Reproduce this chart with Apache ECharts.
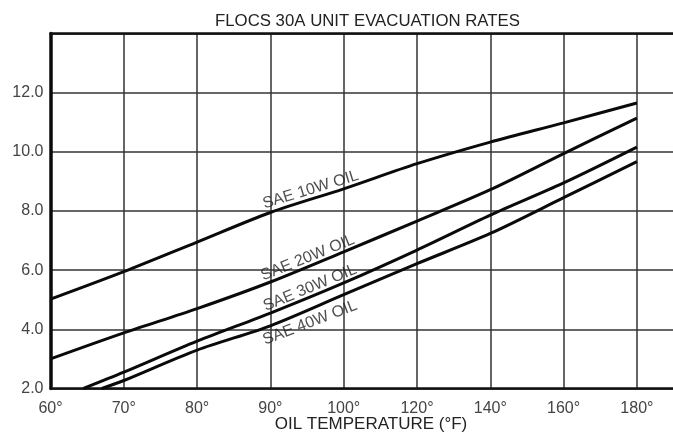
<!DOCTYPE html>
<html>
<head>
<meta charset="utf-8">
<script src="https://cdn.jsdelivr.net/npm/echarts@6/dist/echarts.min.js"></script>
<style>html,body{margin:0;padding:0;background:#fff;overflow:hidden;}#chart{width:690px;height:432px;}</style>
</head>
<body>
<div id="chart"></div>
<script>
// X tick labels (equally spaced, non-linear temperature scale)
const tempTicks = [60, 70, 80, 90, 100, 120, 140, 160, 180];
const tickLabels = ['60°', '70°', '80°', '90°', '100°', '120°', '140°', '160°', '180°'];
// Curves: [temperature °F, evacuation rate]
const sae10w = [[60, 5.02], [70, 5.95], [80, 6.95], [90, 7.95], [100, 8.75], [120, 9.6], [140, 10.33], [160, 10.98], [180, 11.65]];
const sae20w = [[60, 3.0], [70, 3.88], [80, 4.7], [90, 5.6], [100, 6.62], [120, 7.66], [140, 8.72], [160, 9.94], [180, 11.14]];
const sae30w = [[64.5, 2.0], [70, 2.55], [80, 3.6], [90, 4.55], [100, 5.57], [120, 6.68], [140, 7.86], [160, 8.95], [180, 10.16]];
const sae40w = [[67, 2.0], [70, 2.27], [80, 3.3], [90, 4.12], [100, 5.17], [120, 6.22], [140, 7.24], [160, 8.45], [180, 9.67]];
const curveNames = ['SAE 10W OIL', 'SAE 20W OIL', 'SAE 30W OIL', 'SAE 40W OIL'];
// Label anchor (temperature, rate) and rotation for each curve name
const labelAnchors = [[95.5, 8.72], [95.1, 6.42], [95.4, 5.40], [95.4, 4.22]];
const labelAngles = [17, 22, 22.5, 21];

// piecewise temperature -> equally spaced axis position
function tPos(t) {
  for (let i = 0; i < tempTicks.length - 1; i++) {
    if (t <= tempTicks[i + 1]) {
      return i + (t - tempTicks[i]) / (tempTicks[i + 1] - tempTicks[i]);
    }
  }
  return tempTicks.length - 1;
}
const conv = arr => arr.map(p => [tPos(p[0]), p[1]]);

const chart = echarts.init(document.getElementById('chart'));
const font = '"Liberation Sans", Arial, sans-serif';
const curves = [sae10w, sae20w, sae30w, sae40w];

const series = curves.map((c, i) => ({
  type: 'line',
  name: curveNames[i],
  data: conv(c),
  smooth: 0.3,
  showSymbol: false,
  silent: true,
  lineStyle: { color: '#0a0a0a', width: 3 },
  z: 5
}));
series.push({
  type: 'scatter',
  symbolSize: 0,
  silent: true,
  data: labelAnchors.map((a, i) => ({
    value: [tPos(a[0]), a[1]],
    label: { show: true, formatter: curveNames[i], rotate: labelAngles[i], position: 'inside',
      color: '#222', fontSize: 16, fontFamily: font }
  })),
  z: 6
});

chart.setOption({
  animation: false,
  title: {
    text: 'FLOCS 30A UNIT EVACUATION RATES',
    left: 210, top: 8,
    textStyle: { fontFamily: font, fontWeight: 'normal', fontSize: 16.8, color: '#222' }
  },
  grid: { left: 50.5, right: 6, top: 33.5, bottom: 43.5, outerBoundsMode: 'none', containLabel: false },
  xAxis: [{
    type: 'value', min: 0, max: 8.6426, interval: 1,
    name: 'OIL TEMPERATURE (°F)', nameLocation: 'middle', nameGap: 27, nameMoveOverlap: false,
    nameTextStyle: { fontFamily: font, fontSize: 17, color: '#222', padding: [0, 0, 0, 7.5] },
    axisLine: { lineStyle: { color: '#111', width: 2.5 } },
    axisTick: { show: false },
    axisLabel: {
      margin: 12, fontFamily: font, fontSize: 16, color: '#444',
      formatter: v => (Number.isInteger(v) && v < tickLabels.length) ? tickLabels[v] : ''
    },
    splitLine: { show: true, lineStyle: { color: '#333', width: 1.5 } }
  }, {
    type: 'value', position: 'top', min: 0, max: 8.6426,
    axisLine: { show: true, lineStyle: { color: '#111', width: 2.5 } },
    axisTick: { show: false }, axisLabel: { show: false }, splitLine: { show: false }
  }],
  yAxis: {
    type: 'value', min: 2, max: 14, interval: 2,
    axisLine: { show: true, lineStyle: { color: '#0a0a0a', width: 3.5 } },
    axisTick: { show: false },
    axisLabel: {
      margin: 7, fontFamily: font, fontSize: 16, color: '#444',
      formatter: v => v >= 14 ? '' : v.toFixed(1)
    },
    splitLine: { show: true, lineStyle: { color: '#333', width: 1.5 } }
  },
  series: series
});
</script>
</body>
</html>
